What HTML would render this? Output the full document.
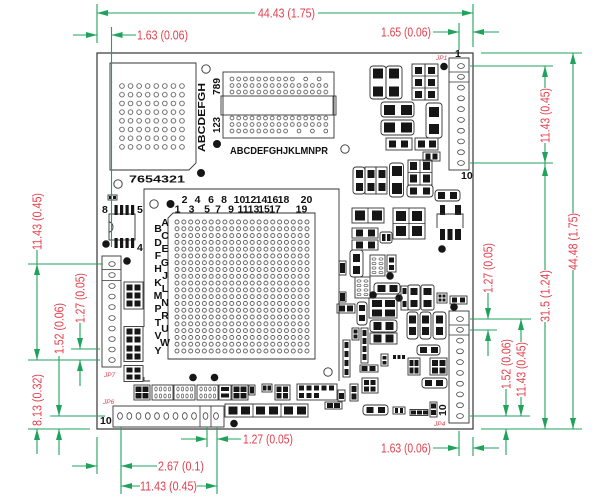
<!DOCTYPE html>
<html><head><meta charset="utf-8"><style>
html,body{margin:0;padding:0;background:#fff;}
svg{display:block;}
.g{stroke:#1fa35c;stroke-width:1.1;fill:none;}
.ga{fill:#1fa35c;}
.r{fill:#e2404c;font-family:"Liberation Sans",Arial,sans-serif;font-size:12.5px;}
.o{fill:none;stroke:#333;stroke-width:0.9;}
.b{fill:#161616;}
.k{fill:#111;font-family:"Liberation Sans",Arial,sans-serif;font-size:10.5px;font-weight:bold;}
.sm{fill:#e2404c;font-family:"Liberation Sans",Arial,sans-serif;font-size:6.5px;font-style:italic;}
</style></head><body>
<svg width="600" height="504" viewBox="0 0 600 504" xmlns="http://www.w3.org/2000/svg">
<defs>
<pattern id="pm" x="117.7" y="81.65" width="8.57" height="8.7" patternUnits="userSpaceOnUse"><circle cx="4.285" cy="4.35" r="2.3" fill="none" stroke="#444" stroke-width="0.8"/></pattern>
<pattern id="pb" x="173.58" y="218.6" width="6.84" height="6.79" patternUnits="userSpaceOnUse"><circle cx="3.42" cy="3.395" r="2" fill="none" stroke="#444" stroke-width="0.8"/></pattern>
<pattern id="pc" x="228.65" y="75.75" width="6.7" height="6.5" patternUnits="userSpaceOnUse"><circle cx="3.35" cy="3.25" r="1.9" fill="none" stroke="#444" stroke-width="0.75"/></pattern>
<pattern id="pc2" x="228.65" y="114.75" width="6.7" height="6.5" patternUnits="userSpaceOnUse"><circle cx="3.35" cy="3.25" r="1.9" fill="none" stroke="#444" stroke-width="0.75"/></pattern>
<g id="rn"><rect x="0" y="0" width="21" height="15" class="o"/><g fill="none" stroke="#555" stroke-width="0.7"><ellipse cx="4" cy="4" rx="1.2" ry="2"/><ellipse cx="8.5" cy="4" rx="1.2" ry="2"/><ellipse cx="13" cy="4" rx="1.2" ry="2"/><ellipse cx="17.5" cy="4" rx="1.2" ry="2"/><ellipse cx="4" cy="11" rx="1.2" ry="2"/><ellipse cx="8.5" cy="11" rx="1.2" ry="2"/><ellipse cx="13" cy="11" rx="1.2" ry="2"/><ellipse cx="17.5" cy="11" rx="1.2" ry="2"/></g></g>
</defs>

<!-- Board outline -->
<rect x="97" y="53" width="376" height="376" fill="none" stroke="#444" stroke-width="1.3"/>

<!-- Memory BGA -->
<path d="M110,63 H196 V163 L189,170 H110 Z" class="o" stroke-width="1.1"/>
<rect x="117.7" y="81.65" width="68.56" height="69.6" fill="url(#pm)"/>
<text class="k" transform="translate(205,152) rotate(-90)" textLength="69" lengthAdjust="spacingAndGlyphs">ABCDEFGH</text>
<text class="k" x="129" y="182.5" textLength="56" lengthAdjust="spacingAndGlyphs" font-size="11">7654321</text>
<circle cx="206" cy="69" r="4.2" class="o"/>
<circle cx="217" cy="144" r="4" class="b"/>
<circle cx="201" cy="173" r="4" class="b"/>
<circle cx="118" cy="184" r="4.2" class="o"/>

<!-- Connector -->
<rect x="223" y="72" width="111" height="66" class="o"/>
<rect x="221" y="96" width="115" height="19" class="o" fill="#fff"/>
<line x1="333" y1="96" x2="333" y2="115" stroke="#333" stroke-width="0.8"/>
<rect x="228.65" y="75.75" width="67" height="6.5" fill="url(#pc)"/>
<circle cx="305.7" cy="79" r="1.9" fill="none" stroke="#444" stroke-width="0.75"/>
<circle cx="319.1" cy="79" r="1.9" fill="none" stroke="#444" stroke-width="0.75"/>
<rect x="228.65" y="82.25" width="100.5" height="13" fill="url(#pc)"/>
<rect x="228.65" y="114.75" width="100.5" height="13" fill="url(#pc2)"/>
<rect x="228.65" y="127.75" width="60.3" height="6.5" fill="url(#pc2)"/>
<circle cx="299" cy="131" r="1.9" fill="none" stroke="#444" stroke-width="0.75"/>
<circle cx="312.4" cy="131" r="1.9" fill="none" stroke="#444" stroke-width="0.75"/>
<circle cx="325.8" cy="131" r="1.9" fill="none" stroke="#444" stroke-width="0.75"/>
<text class="k" transform="translate(220,95) rotate(-90)" textLength="17" lengthAdjust="spacingAndGlyphs">789</text>
<text class="k" transform="translate(220,133) rotate(-90)" textLength="16" lengthAdjust="spacingAndGlyphs">123</text>
<text class="k" x="230" y="154" textLength="98" lengthAdjust="spacingAndGlyphs" font-size="11">ABCDEFGHJKLMNPR</text>
<circle cx="345" cy="149" r="4.2" class="o"/>

<!-- Main BGA -->
<path d="M144,327 V189 H339 V381" class="o" stroke-width="1.1"/>
<path d="M144,377 V381 H150" class="o"/>
<path d="M173,213 H315 V359 H168 V218 Z" class="o" stroke-width="1.2"/>
<rect x="173.58" y="218.6" width="136.8" height="135.8" fill="url(#pb)"/>
<circle cx="154" cy="204" r="4.2" class="o"/>
<circle cx="170.5" cy="204" r="4" class="b"/>
<circle cx="328" cy="372" r="4.2" class="o"/>
<circle cx="193" cy="377.5" r="3.8" class="b"/>
<circle cx="214.5" cy="377.5" r="3.8" class="b"/>
<g class="k" text-anchor="middle" font-size="10.5">
<text x="184.5" y="203">2</text><text x="197.5" y="203">4</text><text x="211" y="203">6</text><text x="224" y="203">8</text>
<text x="239.5" y="203">10</text><text x="250.5" y="203">12</text><text x="261.5" y="203">14</text><text x="272.5" y="203">16</text><text x="283.5" y="203">18</text><text x="306.5" y="203">20</text>
<text x="177.5" y="212.5">1</text><text x="191.5" y="212.5">3</text><text x="207" y="212.5">5</text><text x="218" y="212.5">7</text><text x="231" y="212.5">9</text>
<text x="243" y="212.5">11</text><text x="253.5" y="212.5">13</text><text x="264" y="212.5">15</text><text x="275" y="212.5">17</text><text x="301.5" y="212.5">19</text>
<text x="158" y="232">B</text><text x="158" y="246">D</text><text x="158" y="259">F</text><text x="158" y="272">H</text><text x="158" y="286">K</text>
<text x="158" y="299">M</text><text x="158" y="312">P</text><text x="158" y="326">T</text><text x="158" y="339">V</text><text x="158" y="354">Y</text>
<text x="165" y="226">A</text><text x="165" y="239">C</text><text x="165" y="252">E</text><text x="165" y="266">G</text><text x="165" y="279">J</text>
<text x="165" y="292">L</text><text x="165" y="306">N</text><text x="165" y="319">R</text><text x="165" y="332">U</text><text x="165" y="346">W</text>
</g>

<!-- Left SOIC -->
<rect x="109" y="214" width="26" height="26" class="o"/>
<path d="M109,222 A4,5 0 0 1 109,232" class="o"/>
<rect class="b" x="114.5" y="205" width="3.2" height="10"/><rect class="b" x="120" y="205" width="3.2" height="10"/><rect class="b" x="125.5" y="205" width="3.2" height="10"/><rect class="b" x="131" y="205" width="3.2" height="10"/>
<rect class="b" x="114.5" y="238" width="3.2" height="10"/><rect class="b" x="120" y="238" width="3.2" height="10"/><rect class="b" x="125.5" y="238" width="3.2" height="10"/><rect class="b" x="131" y="238" width="3.2" height="10"/>
<text class="k" x="102" y="213" font-size="11">8</text><text class="k" x="137" y="213" font-size="11">5</text><text class="k" x="137" y="251" font-size="11">4</text>
<rect x="108" y="195" width="9" height="5" class="o"/><rect class="b" x="109" y="196" width="3" height="3"/><rect class="b" x="113" y="196" width="3" height="3"/>
<circle cx="106" cy="244" r="3.8" class="b"/>
<circle cx="127" cy="261" r="3.8" class="b"/>

<!-- JP7 -->
<rect x="102" y="256" width="19" height="111" class="o"/>
<line x1="102" y1="269.5" x2="121" y2="269.5" stroke="#333" stroke-width="0.8"/>
<line x1="102" y1="280.5" x2="121" y2="280.5" stroke="#333" stroke-width="0.8"/>
<g fill="none" stroke="#444" stroke-width="0.8">
<ellipse cx="112" cy="264" rx="3.2" ry="2.4"/><ellipse cx="112" cy="275" rx="3.2" ry="2.4"/><ellipse cx="112" cy="286" rx="3.2" ry="2.4"/><ellipse cx="112" cy="296.5" rx="3.2" ry="2.4"/><ellipse cx="112" cy="307" rx="3.2" ry="2.4"/>
<ellipse cx="112" cy="318" rx="3.2" ry="2.4"/><ellipse cx="112" cy="328.5" rx="3.2" ry="2.4"/><ellipse cx="112" cy="339" rx="3.2" ry="2.4"/><ellipse cx="112" cy="349.5" rx="3.2" ry="2.4"/><ellipse cx="112" cy="360" rx="3.2" ry="2.4"/>
</g>
<text class="sm" x="104" y="377">JP7</text>
<!-- parts right of JP7 -->
<rect x="124" y="282" width="19" height="27" class="o"/>
<rect class="b" x="126.5" y="284.5" width="6" height="6"/><rect class="b" x="134.5" y="284.5" width="6" height="6"/><rect class="b" x="126.5" y="292.5" width="6" height="6"/><rect class="b" x="134.5" y="292.5" width="6" height="6"/><rect class="b" x="126.5" y="300.5" width="6" height="6"/><rect class="b" x="134.5" y="300.5" width="6" height="6"/>
<rect x="124" y="326.5" width="19" height="35" class="o"/>
<rect class="b" x="126.5" y="328.5" width="6" height="6"/><rect class="b" x="134.5" y="328.5" width="6" height="6"/><rect class="b" x="126.5" y="336.5" width="6" height="6"/><rect class="b" x="134.5" y="336.5" width="6" height="6"/>
<rect class="b" x="126.5" y="345.5" width="6" height="6"/><rect class="b" x="134.5" y="345.5" width="6" height="6"/><rect class="b" x="126.5" y="353.5" width="6" height="6"/><rect class="b" x="134.5" y="353.5" width="6" height="6"/>
<rect x="124" y="365.5" width="19" height="16" class="o"/>
<rect class="b" x="126.5" y="367.5" width="6" height="5"/><rect class="b" x="134.5" y="367.5" width="6" height="5"/><rect class="b" x="126.5" y="374.5" width="6" height="5"/><rect class="b" x="134.5" y="374.5" width="6" height="5"/>

<!-- bottom row of small parts -->
<rect x="134" y="385" width="16" height="15" class="o"/>
<rect class="b" x="135.5" y="386.5" width="6" height="5.5"/><rect class="b" x="142.5" y="386.5" width="6" height="5.5"/><rect class="b" x="135.5" y="393" width="6" height="5.5"/><rect class="b" x="142.5" y="393" width="6" height="5.5"/>
<use href="#rn" x="152" y="385"/><use href="#rn" x="174" y="385"/><use href="#rn" x="197" y="385"/>
<rect x="219" y="385" width="12" height="15" class="o"/><rect class="b" x="221" y="387" width="8" height="4"/><rect class="b" x="221" y="393.5" width="8" height="4"/>
<rect x="232" y="385" width="16" height="15" class="o"/>
<rect class="b" x="233.5" y="386.5" width="6" height="5.5"/><rect class="b" x="240.5" y="386.5" width="6" height="5.5"/><rect class="b" x="233.5" y="393" width="6" height="5.5"/><rect class="b" x="240.5" y="393" width="6" height="5.5"/>
<rect x="249" y="385" width="6" height="10" class="o"/><rect class="b" x="250" y="386.5" width="4" height="7"/>
<rect x="262" y="384" width="10" height="8" class="o"/><rect class="b" x="263" y="385.5" width="3.5" height="5"/><rect class="b" x="267.5" y="385.5" width="3.5" height="5"/>
<rect x="275" y="385" width="15" height="15" class="o"/>
<rect class="b" x="276.5" y="386.5" width="5" height="5.5"/><rect class="b" x="283" y="386.5" width="5" height="5.5"/><rect class="b" x="276.5" y="393" width="5" height="5.5"/><rect class="b" x="283" y="393" width="5" height="5.5"/>
<rect x="297" y="384" width="40" height="16" class="o"/>
<rect class="b" x="299" y="385.5" width="5" height="5"/><rect class="b" x="306.5" y="385.5" width="5" height="5"/><rect class="b" x="314" y="385.5" width="5" height="5"/><rect class="b" x="321.5" y="385.5" width="5" height="5"/><rect class="b" x="329" y="385.5" width="5" height="5"/>
<rect class="b" x="299" y="393" width="5" height="5"/><rect class="b" x="306.5" y="393" width="5" height="5"/><rect class="b" x="314" y="393" width="5" height="5"/>
<rect x="338" y="390" width="7" height="11" class="o"/><rect class="b" x="339" y="393" width="5" height="6"/>
<rect x="325" y="402" width="17" height="7" class="o"/><rect class="b" x="327" y="403" width="6" height="5"/><rect class="b" x="334" y="403" width="6" height="5"/>
<rect x="350" y="384" width="8" height="17" class="o"/><rect class="b" x="351.5" y="386" width="5" height="6"/><rect class="b" x="351.5" y="393.5" width="5" height="6"/>

<!-- JP6 -->
<rect x="113" y="406" width="111" height="21" class="o"/>
<line x1="200" y1="406" x2="200" y2="427" stroke="#333" stroke-width="0.8"/>
<line x1="211" y1="406" x2="211" y2="427" stroke="#333" stroke-width="0.8"/>
<g fill="none" stroke="#444" stroke-width="0.8">
<ellipse cx="120" cy="416" rx="2.4" ry="3.3"/><ellipse cx="129.3" cy="416" rx="2.4" ry="3.3"/><ellipse cx="138.5" cy="416" rx="2.4" ry="3.3"/><ellipse cx="147.8" cy="416" rx="2.4" ry="3.3"/><ellipse cx="157" cy="416" rx="2.4" ry="3.3"/>
<ellipse cx="166.3" cy="416" rx="2.4" ry="3.3"/><ellipse cx="175.5" cy="416" rx="2.4" ry="3.3"/><ellipse cx="184.8" cy="416" rx="2.4" ry="3.3"/><ellipse cx="194" cy="416" rx="2.4" ry="3.3"/><ellipse cx="205.5" cy="416" rx="2.4" ry="3.3"/><ellipse cx="216" cy="416" rx="2.4" ry="3.3"/>
</g>
<text class="k" x="100" y="424" font-size="11.5">10</text>
<text class="sm" x="103" y="404">JP6</text>
<rect x="225" y="404" width="83" height="13" class="o"/>
<line x1="253" y1="404" x2="253" y2="417" stroke="#333" stroke-width="0.8"/><line x1="281" y1="404" x2="281" y2="417" stroke="#333" stroke-width="0.8"/>
<rect class="b" x="228.5" y="406.5" width="9" height="8"/><rect class="b" x="241" y="406.5" width="9" height="8"/><rect class="b" x="256" y="406.5" width="9" height="8"/><rect class="b" x="269" y="406.5" width="9" height="8"/><rect class="b" x="284" y="406.5" width="9" height="8"/><rect class="b" x="297" y="406.5" width="9" height="8"/>
<circle cx="234" cy="423.5" r="3.8" class="b"/>

<!-- JP1 -->
<rect x="449" y="58" width="20" height="112" class="o"/>
<line x1="449" y1="72" x2="469" y2="72" stroke="#333" stroke-width="0.8"/><line x1="449" y1="82" x2="469" y2="82" stroke="#333" stroke-width="0.8"/>
<g fill="none" stroke="#444" stroke-width="0.8">
<ellipse cx="461" cy="66" rx="3.4" ry="2.4"/><ellipse cx="461" cy="76.8" rx="3.4" ry="2.4"/><ellipse cx="461" cy="87.6" rx="3.4" ry="2.4"/><ellipse cx="461" cy="98.3" rx="3.4" ry="2.4"/><ellipse cx="461" cy="109.1" rx="3.4" ry="2.4"/>
<ellipse cx="461" cy="119.9" rx="3.4" ry="2.4"/><ellipse cx="461" cy="130.7" rx="3.4" ry="2.4"/><ellipse cx="461" cy="141.4" rx="3.4" ry="2.4"/><ellipse cx="461" cy="152.2" rx="3.4" ry="2.4"/><ellipse cx="461" cy="163" rx="3.4" ry="2.4"/>
</g>
<text class="k" x="461" y="179" font-size="11.5">10</text>
<text class="k" x="455" y="57" font-size="7">1</text>
<text class="sm" x="436" y="60">JP1</text>
<circle cx="444" cy="66.5" r="3.8" class="b"/>

<!-- JP4 -->
<rect x="449" y="311" width="20" height="112" class="o"/>
<line x1="449" y1="325" x2="469" y2="325" stroke="#333" stroke-width="0.8"/><line x1="449" y1="335" x2="469" y2="335" stroke="#333" stroke-width="0.8"/>
<g fill="none" stroke="#444" stroke-width="0.8">
<ellipse cx="460" cy="319" rx="3.4" ry="2.4"/><ellipse cx="460" cy="329.8" rx="3.4" ry="2.4"/><ellipse cx="460" cy="340.6" rx="3.4" ry="2.4"/><ellipse cx="460" cy="351.3" rx="3.4" ry="2.4"/><ellipse cx="460" cy="362.1" rx="3.4" ry="2.4"/>
<ellipse cx="460" cy="372.9" rx="3.4" ry="2.4"/><ellipse cx="460" cy="383.7" rx="3.4" ry="2.4"/><ellipse cx="460" cy="394.4" rx="3.4" ry="2.4"/><ellipse cx="460" cy="405.2" rx="3.4" ry="2.4"/><ellipse cx="460" cy="416" rx="3.4" ry="2.4"/>
</g>
<text class="sm" x="434" y="426">JP4</text>
<text class="k" transform="translate(446,416) rotate(-90)" font-size="7.5">10</text>

<!-- Right-side components -->
<rect class="o" x="370" y="66" width="16" height="33" rx="3"/><rect class="o" x="386" y="66" width="16" height="33" rx="3"/>
<rect class="b" x="373" y="68.5" width="10" height="10"/><rect class="b" x="389" y="68.5" width="10" height="10"/><rect class="b" x="373" y="86.5" width="10" height="10"/><rect class="b" x="389" y="86.5" width="10" height="10"/>
<rect class="o" x="412" y="64" width="13" height="36"/><rect class="o" x="425" y="64" width="13" height="36"/>
<line x1="412" y1="76" x2="438" y2="76" stroke="#333" stroke-width="0.8"/><line x1="412" y1="88" x2="438" y2="88" stroke="#333" stroke-width="0.8"/>
<rect class="b" x="415" y="67" width="7" height="7"/><rect class="b" x="428" y="67" width="7" height="7"/><rect class="b" x="415" y="79" width="7" height="7"/><rect class="b" x="428" y="79" width="7" height="7"/><rect class="b" x="415" y="91" width="7" height="7"/><rect class="b" x="428" y="91" width="7" height="7"/>
<rect class="o" x="381" y="102" width="33" height="15" rx="3"/><rect class="b" x="384" y="105" width="11" height="10"/><rect class="b" x="401" y="105" width="11" height="10"/>
<rect class="o" x="381" y="120" width="33" height="15" rx="3"/><rect class="b" x="384" y="122.5" width="11" height="10"/><rect class="b" x="401" y="122.5" width="11" height="10"/>
<rect class="o" x="426" y="103" width="16" height="35" rx="3"/><rect class="b" x="429" y="107" width="10" height="10"/><rect class="b" x="429" y="124" width="10" height="10"/>
<rect class="o" x="386" y="138" width="26" height="12"/><rect class="b" x="389" y="140.5" width="7" height="7"/><rect class="b" x="401" y="140.5" width="7" height="7"/>
<rect class="o" x="415" y="138" width="23" height="12"/><rect class="b" x="418" y="140.5" width="7" height="7"/><rect class="b" x="429" y="140.5" width="7" height="7"/>
<rect class="o" x="423" y="152" width="17" height="9"/><rect class="b" x="425.5" y="153.5" width="5" height="6"/><rect class="b" x="432.5" y="153.5" width="5" height="6"/>
<rect class="o" x="353" y="167" width="12" height="27" rx="3"/><rect class="o" x="365" y="167" width="11" height="27"/><rect class="o" x="376" y="167" width="11" height="27"/>
<rect class="b" x="356" y="170" width="7" height="8"/><rect class="b" x="367.5" y="170" width="7" height="8"/><rect class="b" x="378.5" y="170" width="7" height="8"/><rect class="b" x="356" y="183" width="7" height="8"/><rect class="b" x="367.5" y="183" width="7" height="8"/><rect class="b" x="378.5" y="183" width="7" height="8"/>
<rect class="o" x="389.5" y="163" width="14" height="34" rx="3"/><rect class="b" x="392" y="166" width="10" height="10"/><rect class="b" x="392" y="183" width="10" height="11"/>
<rect class="o" x="408" y="160" width="24" height="25"/><line x1="420" y1="160" x2="420" y2="185" stroke="#333" stroke-width="0.8"/><line x1="408" y1="172.5" x2="432" y2="172.5" stroke="#333" stroke-width="0.8"/>
<rect class="b" x="410" y="162" width="7" height="8"/><rect class="b" x="423" y="162" width="7" height="8"/><rect class="b" x="410" y="174.5" width="7" height="8"/><rect class="b" x="423" y="174.5" width="7" height="8"/>
<rect class="o" x="407" y="185" width="26" height="12" rx="3"/><rect class="b" x="410" y="187.5" width="7" height="7"/><rect class="b" x="423" y="187.5" width="7" height="7"/>
<rect class="o" x="435" y="190" width="25" height="11" rx="3"/><rect class="b" x="438" y="192" width="7" height="7"/><rect class="b" x="450" y="192" width="7" height="7"/>

<rect class="o" x="352" y="208" width="32" height="15"/><line x1="368" y1="208" x2="368" y2="223" stroke="#333" stroke-width="0.8"/><rect class="b" x="355" y="210.5" width="10" height="10"/><rect class="b" x="372" y="210.5" width="10" height="10"/>
<rect class="o" x="393" y="208" width="32" height="31"/><line x1="409" y1="208" x2="409" y2="239" stroke="#333" stroke-width="0.8"/><line x1="393" y1="223.5" x2="425" y2="223.5" stroke="#333" stroke-width="0.8"/>
<rect class="b" x="396" y="211" width="10" height="10"/><rect class="b" x="412" y="211" width="10" height="10"/><rect class="b" x="396" y="226" width="10" height="10"/><rect class="b" x="412" y="226" width="10" height="10"/>
<rect class="b" x="440" y="205" width="5" height="10"/><rect class="b" x="455" y="205" width="6" height="10"/>
<rect class="b" x="440" y="229" width="5" height="11"/><rect class="b" x="447.5" y="229" width="5" height="11"/><rect class="b" x="455" y="229" width="6" height="11"/>
<path d="M437,228 V214 H463 V228" class="o"/><line x1="445" y1="214" x2="455" y2="214" stroke="#333" stroke-width="0.8"/>
<circle cx="442" cy="249" r="3.8" class="b"/>
<rect class="o" x="352" y="228" width="26" height="10"/><rect class="b" x="356" y="229.5" width="7" height="7"/><rect class="b" x="368" y="229.5" width="7" height="7"/>
<rect class="o" x="352" y="240" width="26" height="10"/><rect class="b" x="356" y="241.5" width="7" height="7"/><rect class="b" x="368" y="241.5" width="7" height="7"/>
<rect class="o" x="380" y="232" width="12" height="11" rx="2"/><rect class="b" x="382" y="234" width="3.5" height="7"/><rect class="b" x="387" y="234" width="3.5" height="7"/>
<rect class="o" x="350" y="250" width="13" height="27" rx="3"/><rect class="b" x="353" y="254" width="7" height="8"/><rect class="b" x="353" y="266" width="7" height="8"/>
<use href="#rn" transform="translate(385,255) rotate(90)"/>
<rect class="o" x="387" y="255" width="9" height="17"/><rect class="b" x="389" y="257.5" width="5" height="5"/><rect class="b" x="389" y="265" width="5" height="5"/>
<circle cx="390" cy="276" r="3.8" class="b"/>
<rect class="o" x="339" y="261" width="7" height="14"/><rect class="b" x="340" y="263" width="5" height="10"/>
<use href="#rn" transform="translate(370,277) rotate(90)"/>
<rect class="o" x="374" y="283" width="26" height="11" rx="3"/><rect class="b" x="377.5" y="285" width="8" height="7"/><rect class="b" x="389.5" y="285" width="8" height="7"/>
<circle cx="373" cy="295" r="3.8" class="b"/><circle cx="399" cy="298" r="3.8" class="b"/>
<rect class="o" x="369" y="298" width="28" height="20"/>
<rect class="b" x="372" y="300" width="10" height="7"/><rect class="b" x="385" y="300" width="10" height="7"/><rect class="b" x="372" y="309.5" width="10" height="7"/><rect class="b" x="385" y="309.5" width="10" height="7"/>
<rect class="o" x="401" y="286" width="7" height="24"/><rect class="b" x="402.5" y="288" width="4" height="6"/><rect class="b" x="402.5" y="301" width="4" height="6"/>
<rect class="o" x="408" y="285" width="12" height="25" rx="2"/><rect class="b" x="410.5" y="288" width="7" height="7"/><rect class="b" x="410.5" y="300" width="7" height="7"/>
<rect class="o" x="421" y="285" width="13" height="25" rx="2"/><rect class="b" x="423.5" y="288" width="8" height="7"/><rect class="b" x="423.5" y="300" width="8" height="7"/>
<rect class="o" x="437" y="293" width="10" height="10"/><rect class="b" x="438.5" y="294.5" width="3" height="3"/><rect class="b" x="442.5" y="294.5" width="3" height="3"/><rect class="b" x="438.5" y="298.5" width="3" height="3"/><rect class="b" x="442.5" y="298.5" width="3" height="3"/>
<rect class="o" x="450" y="296" width="17" height="8"/><rect class="b" x="452" y="297.5" width="5" height="5"/><rect class="b" x="460" y="297.5" width="5" height="5"/>
<circle cx="454" cy="307" r="3.8" class="b"/>
<rect class="o" x="339" y="292" width="7" height="10"/><rect class="b" x="340" y="293" width="5" height="8"/>
<rect class="o" x="337" y="304" width="18" height="9"/><rect class="b" x="339" y="305.5" width="6" height="6"/><rect class="b" x="347" y="305.5" width="6" height="6"/>

<rect class="o" x="343" y="340" width="7" height="37"/><rect class="b" x="344.5" y="342" width="4" height="6"/><rect class="b" x="344.5" y="351" width="4" height="6"/><rect class="b" x="344.5" y="360" width="4" height="6"/><rect class="b" x="344.5" y="369" width="4" height="6"/>
<rect class="o" x="357" y="302" width="10" height="23" rx="3"/><rect class="b" x="359" y="305" width="6" height="6"/><rect class="b" x="359" y="315" width="6" height="6"/>
<rect class="o" x="370" y="320" width="27" height="12" rx="3"/><rect class="b" x="373.5" y="322" width="8" height="8"/><rect class="b" x="385.5" y="322" width="8" height="8"/>
<rect class="o" x="370" y="333" width="27" height="11"/><rect class="b" x="373.5" y="334.5" width="8" height="8"/><rect class="b" x="385.5" y="334.5" width="8" height="8"/>
<rect class="o" x="352" y="328" width="7" height="12"/><rect class="b" x="353.5" y="329.5" width="4" height="4"/><rect class="b" x="353.5" y="334.5" width="4" height="4"/>
<rect class="o" x="361" y="328" width="7" height="35"/><rect class="b" x="362.5" y="330" width="4" height="6"/><rect class="b" x="362.5" y="338" width="4" height="6"/><rect class="b" x="362.5" y="346" width="4" height="6"/><rect class="b" x="362.5" y="354" width="4" height="6"/>
<rect class="o" x="407" y="312" width="11" height="27" rx="3"/><rect class="b" x="409" y="315.5" width="7" height="8"/><rect class="b" x="409" y="327" width="7" height="8"/>
<rect class="o" x="420" y="312" width="11" height="27" rx="3"/><rect class="b" x="422" y="315.5" width="7" height="8"/><rect class="b" x="422" y="327" width="7" height="8"/>
<rect class="o" x="433" y="312" width="13" height="27" rx="3"/><rect class="b" x="436" y="315.5" width="7" height="8"/><rect class="b" x="436" y="327" width="7" height="8"/>
<rect class="o" x="417" y="345" width="23" height="10" rx="3"/><rect class="b" x="420" y="347" width="7" height="6"/><rect class="b" x="431" y="347" width="7" height="6"/>
<rect class="o" x="360" y="365" width="18" height="7"/><rect class="b" x="361.5" y="366" width="6" height="5"/><rect class="b" x="369.5" y="366" width="6" height="5"/>
<rect class="o" x="381" y="354" width="7" height="12"/><rect class="b" x="382.5" y="356" width="4" height="3.5"/><rect class="b" x="382.5" y="361" width="4" height="3.5"/>
<rect class="b" x="393" y="355" width="3" height="4"/><rect class="b" x="397.5" y="355" width="3" height="4"/><rect class="b" x="402" y="355" width="3" height="4"/>
<rect class="o" x="408" y="358" width="12" height="17"/><rect class="b" x="409.5" y="360" width="4" height="6"/><rect class="b" x="414.5" y="360" width="4" height="6"/><rect class="b" x="409.5" y="367.5" width="4" height="6"/><rect class="b" x="414.5" y="367.5" width="4" height="6"/>
<rect class="o" x="430" y="358" width="17" height="17"/><rect class="b" x="432" y="360" width="6" height="6"/><rect class="b" x="439.5" y="360" width="6" height="6"/><rect class="b" x="432" y="367.5" width="6" height="6"/><rect class="b" x="439.5" y="367.5" width="6" height="6"/>
<rect class="o" x="422" y="378" width="25" height="10" rx="3"/><rect class="b" x="425" y="380" width="7" height="6"/><rect class="b" x="436" y="380" width="7" height="6"/>
<rect class="o" x="362" y="378" width="16" height="15"/><rect class="b" x="364" y="380" width="5" height="5"/><rect class="b" x="370.5" y="380" width="5" height="5"/><rect class="b" x="364" y="386.5" width="5" height="5"/><rect class="b" x="370.5" y="386.5" width="5" height="5"/>
<rect class="o" x="363" y="405" width="25" height="10" rx="3"/><rect class="b" x="366.5" y="407" width="7" height="6"/><rect class="b" x="378" y="407" width="7" height="6"/>
<rect class="o" x="393" y="407" width="12" height="7"/><rect class="b" x="395" y="408" width="3" height="5"/><rect class="b" x="400" y="408" width="3" height="5"/>
<rect class="o" x="410" y="409.5" width="18" height="6"/><rect class="b" x="411" y="410.5" width="5" height="4"/><rect class="b" x="417" y="410.5" width="5" height="4"/><rect class="b" x="423" y="410.5" width="5" height="4"/>
<rect class="o" x="430" y="402" width="7" height="15"/><rect class="b" x="431" y="403.5" width="5" height="5"/><rect class="b" x="431" y="410" width="5" height="5"/>

<!-- ===== Dimension lines ===== -->
<g class="g">
<path d="M97,4 V43 M97,13 H255 M318,13 H473 M473,4 V47 M73,35 H97 M111.5,27 V247 M111.5,35 H136 M433,32 H459 M459,23 V50 M473,32 H499"/>
<path d="M481,53 H582 M470,66 H553 M470,163 H553 M545,66 V88 M545,143 V270 M545,322 V429 M573,53 V213 M573,270 V429 M481,429 H582"/>
<path d="M470,319 H531 M470,330 H497 M488,293 V319 M488,330 V356 M521,319 V342 M521,397 V416 M470,416 H530 M506,389 V416 M506,429 V455 M459,431 V456 M473,437 V456 M433,448 H459 M473,448 H499"/>
<path d="M28,264 H103 M71,349 H100 M28,360 H100 M50,416 H105 M28,429 H90 M37,250 V360 M37,429 V454 M80,323 V349 M80,360 V386 M59,356 V416 M59,429 V455"/>
<path d="M97,437 V474 M72,466 H97 M121,427 V494 M121,466 H157 M121,486 H140 M197,486 H217 M217,427 V494 M207,427 V447 M181,439 H207 M217,439 H241"/>
</g>
<g class="ga">
<polygon points="97,13 108,10 108,16"/><polygon points="473,13 462,10 462,16"/>
<polygon points="97,35 86,32 86,38"/><polygon points="111.5,35 122.5,32 122.5,38"/>
<polygon points="459,32 448,29 448,35"/><polygon points="473,32 484,29 484,35"/>
<polygon points="545,66 542,77 548,77"/><polygon points="545,163 542,152 548,152"/><polygon points="545,165 542,176 548,176"/><polygon points="545,429 542,418 548,418"/>
<polygon points="573,53 570,64 576,64"/><polygon points="573,429 570,418 576,418"/>
<polygon points="488,319 485,308 491,308"/><polygon points="488,330 485,341 491,341"/>
<polygon points="521,319 518,330 524,330"/><polygon points="521,416 518,405 524,405"/>
<polygon points="506,416 503,405 509,405"/><polygon points="506,429 503,440 509,440"/>
<polygon points="459,448 448,445 448,451"/><polygon points="473,448 484,445 484,451"/>
<polygon points="37,264 34,275 40,275"/><polygon points="37,360 34,349 40,349"/><polygon points="37,429 34,440 40,440"/>
<polygon points="80,349 77,338 83,338"/><polygon points="80,360 77,371 83,371"/>
<polygon points="59,416 56,405 62,405"/><polygon points="59,429 56,440 62,440"/>
<polygon points="97,466 86,463 86,469"/><polygon points="121,466 132,463 132,469"/>
<polygon points="121,486 132,483 132,489"/><polygon points="217,486 206,483 206,489"/>
<polygon points="207,439 196,436 196,442"/><polygon points="217,439 228,436 228,442"/>
</g>

<!-- Dimension texts -->
<g class="r">
<text x="258" y="17.5" textLength="57" lengthAdjust="spacingAndGlyphs">44.43 (1.75)</text>
<text x="137" y="39.5" textLength="51" lengthAdjust="spacingAndGlyphs">1.63 (0.06)</text>
<text x="381" y="36.5" textLength="50" lengthAdjust="spacingAndGlyphs">1.65 (0.06)</text>
<text x="381" y="452.5" textLength="50" lengthAdjust="spacingAndGlyphs">1.63 (0.06)</text>
<text x="243" y="443.5" textLength="50" lengthAdjust="spacingAndGlyphs">1.27 (0.05)</text>
<text x="158" y="470.5" textLength="46" lengthAdjust="spacingAndGlyphs">2.67 (0.1)</text>
<text x="140" y="490.5" textLength="57" lengthAdjust="spacingAndGlyphs">11.43 (0.45)</text>
</g>
<g class="r" text-anchor="middle">
<text transform="translate(549.5,115.5) rotate(-90)" textLength="55" lengthAdjust="spacingAndGlyphs">11.43 (0.45)</text>
<text transform="translate(577.5,241.5) rotate(-90)" textLength="57" lengthAdjust="spacingAndGlyphs">44.48 (1.75)</text>
<text transform="translate(549.5,296) rotate(-90)" textLength="52" lengthAdjust="spacingAndGlyphs">31.5 (1.24)</text>
<text transform="translate(492.5,268) rotate(-90)" textLength="50" lengthAdjust="spacingAndGlyphs">1.27 (0.05)</text>
<text transform="translate(510.5,364) rotate(-90)" textLength="50" lengthAdjust="spacingAndGlyphs">1.52 (0.06)</text>
<text transform="translate(525.5,369.5) rotate(-90)" textLength="55" lengthAdjust="spacingAndGlyphs">11.43 (0.45)</text>
<text transform="translate(41.5,221.5) rotate(-90)" textLength="57" lengthAdjust="spacingAndGlyphs">11.43 (0.45)</text>
<text transform="translate(84.5,298) rotate(-90)" textLength="50" lengthAdjust="spacingAndGlyphs">1.27 (0.05)</text>
<text transform="translate(63.5,328.5) rotate(-90)" textLength="51" lengthAdjust="spacingAndGlyphs">1.52 (0.06)</text>
<text transform="translate(41.5,400) rotate(-90)" textLength="52" lengthAdjust="spacingAndGlyphs">8.13 (0.32)</text>
</g>
</svg>
</body></html>
